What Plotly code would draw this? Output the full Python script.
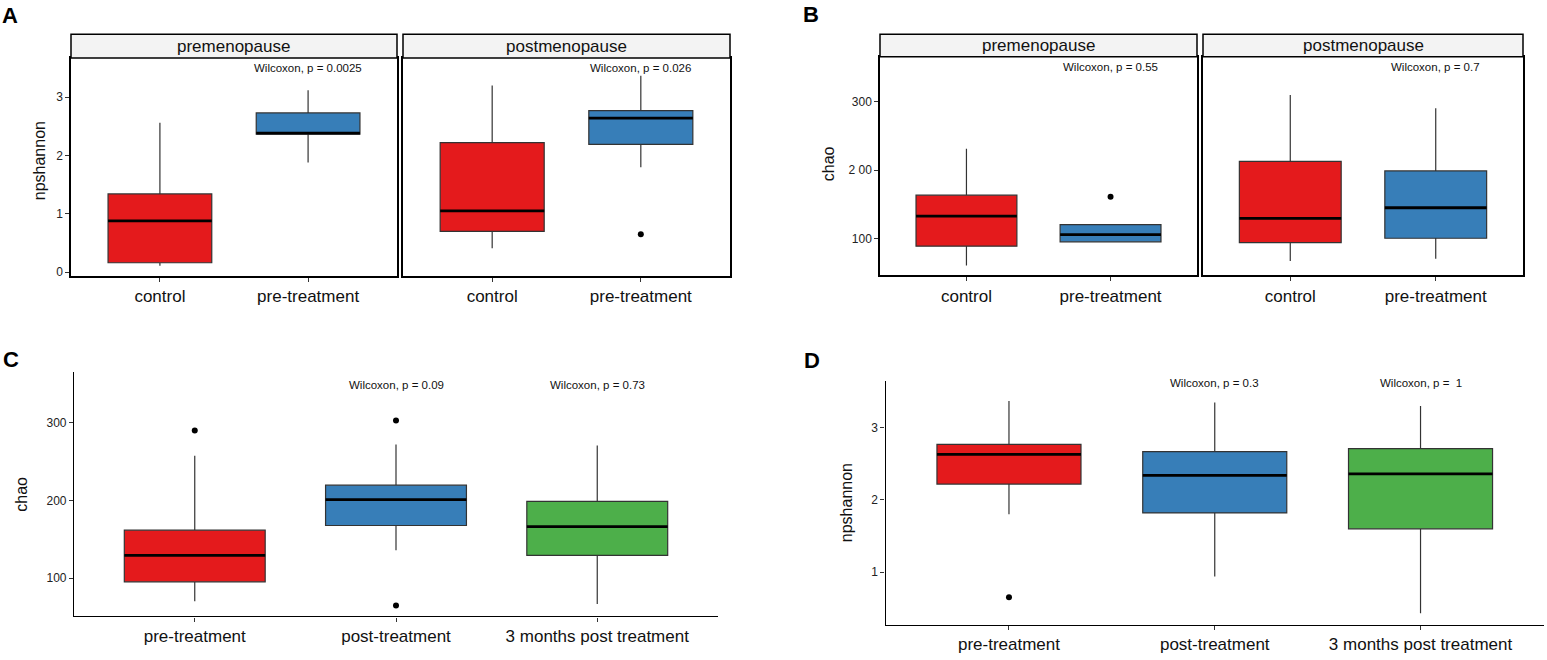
import plotly.graph_objects as go

W, H = 1547, 660
FONT = "Liberation Sans, Arial, sans-serif"

RED = "#E41A1C"
BLUE = "#377EB8"
GREEN = "#4DAF4A"

## panel A : npshannon, control vs pre-treatment, split by menopause status
a_groups = ["control", "pre-treatment"]
a_facets = ["premenopause", "postmenopause"]
a_pre_low = [0.11, 1.88]
a_pre_q1 = [0.16, 2.365]
a_pre_med = [0.88, 2.385]
a_pre_q3 = [1.34, 2.73]
a_pre_high = [2.56, 3.12]
a_post_low = [0.41, 1.80]
a_post_q1 = [0.70, 2.19]
a_post_med = [1.05, 2.64]
a_post_q3 = [2.22, 2.77]
a_post_high = [3.20, 3.37]
a_post_out_grp = [2]
a_post_out_val = [0.65]
a_pvals = ["Wilcoxon, p = 0.0025", "Wilcoxon, p = 0.026"]

## panel B : chao, same split
b_pre_low = [60.8, 95.2]
b_pre_q1 = [88.9, 95.2]
b_pre_med = [132.9, 105.8]
b_pre_q3 = [163.4, 120.3]
b_pre_high = [231.0, 120.3]
b_pre_out_grp = [2]
b_pre_out_val = [161.0]
b_post_low = [67.1, 70.5]
b_post_q1 = [94.2, 100.5]
b_post_med = [129.5, 145.0]
b_post_q3 = [212.8, 198.8]
b_post_high = [309.7, 290.3]
b_pvals = ["Wilcoxon, p = 0.55", "Wilcoxon, p = 0.7"]

## panels C and D : treatment time points
cd_groups = ["pre-treatment", "post-treatment", "3 months post treatment"]
c_low = [70.1, 135.8, 66.7]
c_q1 = [95.3, 167.8, 129.4]
c_med = [129.4, 201.1, 166.5]
c_q3 = [161.8, 219.8, 198.9]
c_high = [257.8, 272.3, 271.0]
c_out_grp = [1, 2, 2]
c_out_val = [290.2, 303.0, 64.6]
c_pvals = ["Wilcoxon, p = 0.09", "Wilcoxon, p = 0.73"]

d_low = [1.80, 0.94, 0.43]
d_q1 = [2.22, 1.82, 1.60]
d_med = [2.63, 2.34, 2.36]
d_q3 = [2.77, 2.67, 2.71]
d_high = [3.37, 3.35, 3.30]
d_out_grp = [1]
d_out_val = [0.65]
d_pvals = ["Wilcoxon, p = 0.3", "Wilcoxon, p =  1"]

fig = go.Figure()
BOXW = 0.7


def add_boxes(ax, colors, low, q1, med, q3, high, out_grp=None, out_val=None):
    xa = "x" if ax == 1 else "x%d" % ax
    ya = "y" if ax == 1 else "y%d" % ax
    for i, c in enumerate(colors):
        fig.add_trace(go.Box(
            x=[i + 1], lowerfence=[low[i]], q1=[q1[i]], median=[med[i]],
            q3=[q3[i]], upperfence=[high[i]], width=BOXW, whiskerwidth=0,
            fillcolor=c, line=dict(color="#333333", width=1.2),
            xaxis=xa, yaxis=ya, showlegend=False, hoverinfo="skip"))
    # thicker median bars like ggplot
    mx, my = [], []
    for i, m in enumerate(med):
        mx += [i + 1 - BOXW / 2, i + 1 + BOXW / 2, None]
        my += [m, m, None]
    fig.add_trace(go.Scatter(x=mx, y=my, mode="lines", line=dict(color="black", width=2.8),
                             xaxis=xa, yaxis=ya, showlegend=False, hoverinfo="skip"))
    if out_grp:
        fig.add_trace(go.Scatter(x=out_grp, y=out_val, mode="markers",
                                 marker=dict(color="black", size=6),
                                 xaxis=xa, yaxis=ya, showlegend=False, hoverinfo="skip"))


add_boxes(1, [RED, BLUE], a_pre_low, a_pre_q1, a_pre_med, a_pre_q3, a_pre_high)
add_boxes(2, [RED, BLUE], a_post_low, a_post_q1, a_post_med, a_post_q3, a_post_high,
          a_post_out_grp, a_post_out_val)
add_boxes(3, [RED, BLUE], b_pre_low, b_pre_q1, b_pre_med, b_pre_q3, b_pre_high,
          b_pre_out_grp, b_pre_out_val)
add_boxes(4, [RED, BLUE], b_post_low, b_post_q1, b_post_med, b_post_q3, b_post_high)
add_boxes(5, [RED, BLUE, GREEN], c_low, c_q1, c_med, c_q3, c_high, c_out_grp, c_out_val)
add_boxes(6, [RED, BLUE, GREEN], d_low, d_q1, d_med, d_q3, d_high, d_out_grp, d_out_val)


def px_x(a, b):
    return [a / W, b / W]


def px_y(top, bottom):
    return [1 - bottom / H, 1 - top / H]


tickfont_y = dict(family=FONT, size=12, color="#222")
tickfont_x = dict(family=FONT, size=17, color="#111")


def xax(dom, groups, boxed):
    return dict(domain=dom, range=[0.4, len(groups) + 0.6], tickvals=list(range(1, len(groups) + 1)),
                ticktext=groups, ticks="outside", ticklen=4, tickcolor="#333", tickfont=tickfont_x,
                showline=True, linecolor="black", linewidth=1.5 if boxed else 1.2,
                mirror=boxed, showgrid=False, zeroline=False, fixedrange=True)


def yax(dom, rng, vals, text=None, labels=True, boxed=True, anchor="x"):
    d = dict(domain=dom, range=rng, tickvals=vals, ticks="outside" if labels else "",
             ticklen=4, tickcolor="#333", tickfont=tickfont_y, showticklabels=labels,
             showline=True, linecolor="black", linewidth=1.5 if boxed else 1.2, mirror=boxed,
             showgrid=False, zeroline=False, anchor=anchor, fixedrange=True)
    if text:
        d["ticktext"] = text
    return d


ya_dom = px_y(58.3, 277.3)
yb_dom = px_y(57.0, 276.7)
a_rng = [-0.068, 3.672]
b_rng = [46.2, 365.4]

fig.update_layout(
    width=W, height=H, margin=dict(l=0, r=0, t=0, b=0),
    plot_bgcolor="white", paper_bgcolor="white", boxmode="overlay",
    font=dict(family=FONT, color="#111"),
    xaxis=xax(px_x(71, 397), a_groups, True),
    xaxis2=xax(px_x(403, 730), a_groups, True),
    xaxis3=xax(px_x(880, 1197), a_groups, True),
    xaxis4=xax(px_x(1203, 1523), a_groups, True),
    xaxis5=xax(px_x(74, 718), cd_groups, False),
    xaxis6=xax(px_x(885.5, 1544), cd_groups, False),
    yaxis=yax(ya_dom, a_rng, [0, 1, 2, 3], anchor="x"),
    yaxis2=yax(ya_dom, a_rng, [0, 1, 2, 3], labels=False, anchor="x2"),
    yaxis3=yax(yb_dom, b_rng, [100, 200, 300], ["100", "2 00", "300"], anchor="x3"),
    yaxis4=yax(yb_dom, b_rng, [100, 200, 300], labels=False, anchor="x4"),
    yaxis5=yax(px_y(374, 619.3), [50.6, 365.2], [100, 200, 300], boxed=False, anchor="x5"),
    yaxis6=yax(px_y(383, 627.5), [0.272, 3.644], [1, 2, 3], boxed=False, anchor="x6"),
)
for i in range(1, 7):
    fig.layout["xaxis%s" % ("" if i == 1 else i)].anchor = "y" if i == 1 else "y%d" % i

# facet strips
strips = [(71, 397, 34.3, 58.3, a_facets[0]), (403, 730, 34.3, 58.3, a_facets[1]),
          (880, 1197, 34.3, 57.0, a_facets[0]), (1203, 1523, 34.3, 57.0, a_facets[1])]
for x0, x1, t, b, lab in strips:
    fig.add_shape(type="rect", xref="paper", yref="paper", x0=x0 / W, x1=x1 / W,
                  y0=1 - b / H, y1=1 - t / H, fillcolor="#F3F3F3",
                  line=dict(color="black", width=1.5), layer="above")
    fig.add_annotation(x=(x0 + x1) / 2 / W, y=1 - (t + b) / 2 / H, xref="paper", yref="paper",
                       text=lab, showarrow=False, font=dict(size=17, family=FONT, color="#111"),
                       xanchor="center", yanchor="middle")

# p-value labels
pfont = dict(size=11.5, family=FONT, color="#111")
for ax, labs, y, xs in [("1", a_pvals[:1], 3.494, [2]), ("2", a_pvals[1:], 3.494, [2]),
                        ("3", b_pvals[:1], 349.9, [2]), ("4", b_pvals[1:], 349.9, [2]),
                        ("5", c_pvals, 349.0, [2, 3]), ("6", d_pvals, 3.626, [2, 3])]:
    for lab, xv in zip(labs, xs):
        fig.add_annotation(x=xv, y=y, xref="x" if ax == "1" else "x" + ax,
                           yref="y" if ax == "1" else "y" + ax, text=lab, showarrow=False,
                           font=pfont, xanchor="center", yanchor="middle")

# y axis titles
for x, y, lab in [(39, 162, "npshannon"), (828, 165, "chao"), (22, 497, "chao"), (846.5, 505, "npshannon")]:
    fig.add_annotation(x=x / W, y=1 - y / H, xref="paper", yref="paper", text=lab, textangle=-90,
                       showarrow=False, font=dict(size=16, family=FONT, color="#111"),
                       xanchor="center", yanchor="middle")

# panel letters
for x, y, lab in [(10, 16, "A"), (811, 15, "B"), (11, 361, "C"), (812, 362, "D")]:
    fig.add_annotation(x=x / W, y=1 - y / H, xref="paper", yref="paper", text="<b>%s</b>" % lab,
                       showarrow=False, font=dict(size=22, family=FONT, color="black"),
                       xanchor="center", yanchor="middle")

# page body has a default 8px margin; drop it so the figure sits at the window corner
fig.write_html("out.html", config={"displayModeBar": False},
               post_script="document.body.style.margin='0';")
